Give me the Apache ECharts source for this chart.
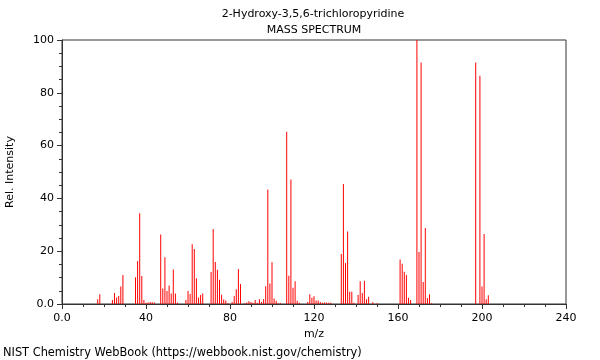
<!DOCTYPE html>
<html>
<head>
<meta charset="utf-8">
<script src="https://cdn.jsdelivr.net/npm/echarts@6/dist/echarts.min.js"></script>
<style>html,body{margin:0;padding:0;background:#fff}#c{width:600px;height:360px}</style>
</head>
<body>
<div id="c"></div>
<script>
const titleLine1 = "2-Hydroxy-3,5,6-trichloropyridine";
const titleLine2 = "MASS SPECTRUM";
const footer = "NIST Chemistry WebBook (https://webbook.nist.gov/chemistry)";
const xName = "m/z";
const yName = "Rel. Intensity";

const mz = [17,18,24,25,26,27,28,29,35,36,37,38,39,40,41,42,43,44,
  47,48,49,50,51,52,53,54,55,59,60,61,62,63,64,65,66,67,
  71,72,73,74,75,76,77,78,79,81,82,83,84,85,87,88,89,90,91,92,93,94,95,96,
  97,98,99,100,101,102,103,104,107,108,109,110,111,112,113,
  117,118,119,120,121,122,123,124,125,126,127,128,
  133,134,135,136,137,138,139,141,142,143,144,145,146,148,150,
  161,162,163,164,165,166,169,170,171,172,173,174,175,176,
  197,199,200,201,202,203];
const intensity = [1.8,3.7,1.5,4.2,2.5,3.0,6.6,11.0,10.1,16.3,34.4,10.6,1.5,0.5,0.6,0.8,0.7,0.6,
  26.3,5.9,17.7,4.9,7.0,4.0,13.1,4.0,0.5,1.5,4.9,3.8,22.6,20.8,9.8,2.5,3.4,4.0,
  12.1,28.4,15.9,13.0,9.2,3.5,1.7,1.3,0.3,0.8,3.0,5.6,13.3,7.6,0.3,0.6,1.0,0.8,0.5,1.5,0.5,1.8,0.8,1.8,
  6.7,43.4,7.8,15.8,2.1,1.2,0.3,0.3,65.2,10.7,47.2,6.2,8.6,1.2,0.5,
  0.8,3.7,2.4,2.9,1.3,1.3,0.8,0.5,0.6,0.6,0.5,0.5,
  18.9,45.5,15.5,27.5,4.6,4.6,0.5,3.4,8.6,4.2,8.8,1.8,2.7,0.7,0.3,
  16.9,15.2,12.2,11.0,2.4,1.5,100,19.7,91.5,8.3,28.8,2.3,3.7,0.3,
  91.5,86.5,6.6,26.5,1.8,3.3];

const xTicks = {min: 0, max: 240, step: 40};
const yTicks = {min: 0, max: 100, step: 20};

const fontFamily = "DejaVu Sans";
const axisColor = "#333";

const chart = echarts.init(document.getElementById('c'), null, {renderer: 'canvas'});
const fmt = v => (v === 0 ? '0.0' : String(v));

chart.setOption({
  animation: false,
  backgroundColor: '#fff',
  textStyle: {fontFamily: fontFamily},
  grid: {left: 62, right: 34, top: 40, bottom: 56, containLabel: false, outerBoundsMode: 'none',
    show: true, borderColor: axisColor, borderWidth: 1, backgroundColor: 'transparent'},
  graphic: [
    {type: 'text', x: 313, y: 14, style: {text: titleLine1, font: '11px "DejaVu Sans"', fill: '#000', textAlign: 'center', textVerticalAlign: 'middle'}},
    {type: 'text', x: 314, y: 30, style: {text: titleLine2, font: '11px "DejaVu Sans"', fill: '#000', textAlign: 'center', textVerticalAlign: 'middle'}},
    {type: 'text', x: 3, y: 353, style: {text: footer, font: '11.4px "DejaVu Sans"', fill: '#000', textAlign: 'left', textVerticalAlign: 'middle'}}
  ],
  xAxis: {
    type: 'value', min: xTicks.min, max: xTicks.max, interval: xTicks.step,
    name: xName, nameLocation: 'middle', nameGap: 25,
    nameTextStyle: {fontSize: 11, color: '#000', fontFamily: fontFamily},
    axisLine: {show: true, lineStyle: {color: axisColor}},
    axisTick: {show: true, length: 5, lineStyle: {color: axisColor}},
    minorTick: {show: true, splitNumber: 4, length: 3, lineStyle: {color: axisColor}},
    splitLine: {show: false},
    axisLabel: {fontSize: 11, color: '#000', margin: 9, formatter: fmt, fontFamily: fontFamily}
  },
  yAxis: {
    type: 'value', min: yTicks.min, max: yTicks.max, interval: yTicks.step,
    name: yName, nameLocation: 'middle', nameGap: 46, nameRotate: 90,
    nameTextStyle: {fontSize: 11, color: '#000', fontFamily: fontFamily},
    axisLine: {show: true, lineStyle: {color: axisColor}},
    axisTick: {show: true, length: 5, lineStyle: {color: axisColor}},
    minorTick: {show: true, splitNumber: 4, length: 3, lineStyle: {color: axisColor}},
    splitLine: {show: false},
    axisLabel: {fontSize: 11, color: '#000', margin: 8, formatter: fmt, fontFamily: fontFamily}
  },
  series: [{
    type: 'bar',
    barWidth: 1,
    itemStyle: {color: '#ff0000'},
    data: mz.map((m, i) => [m, intensity[i]])
  }]
});
</script>
</body>
</html>
